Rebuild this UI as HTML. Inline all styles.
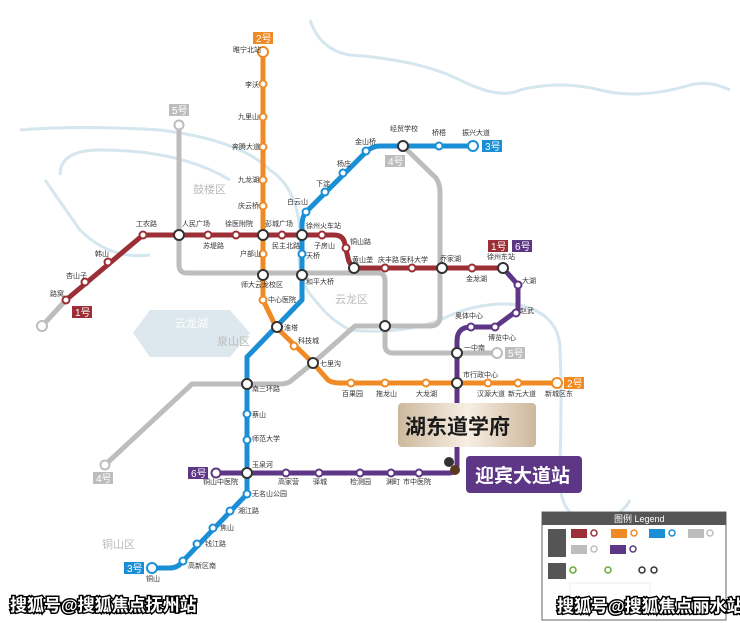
<!DOCTYPE html>
<html><head><meta charset="utf-8"><style>
body{margin:0;background:#fff}
svg{display:block;font-family:"Liberation Sans","Noto Sans CJK SC",sans-serif}
.s{fill:#fff;stroke-width:2}
.x{fill:#fff;stroke:#333;stroke-width:2}
.t{font-size:7px;fill:#333}
.wm{font-size:17px;font-weight:bold;fill:#fff;stroke:#000;stroke-width:3;paint-order:stroke}
</style></head><body>
<svg width="740" height="623" viewBox="0 0 740 623">
<g fill="none" stroke="#d6e6ee" stroke-width="3">
<path d="M310 20 Q320 50 350 55 Q420 60 460 80 Q500 100 520 90 Q560 80 600 90 Q640 100 690 85 Q710 80 730 90"/>
<path d="M20 130 Q80 125 160 130 Q240 140 270 170 Q300 190 300 240 Q295 280 315 300 Q330 320 350 330 Q400 335 440 320 Q480 300 520 305 Q560 315 560 350 Q562 400 560 460 Q555 520 590 520 Q620 520 630 500"/>
<path d="M60 175 Q60 150 100 150 Q180 150 230 180"/>
<path d="M45 180 L80 230 Q110 260 150 255"/>
</g>
<polygon points="150,310 230,310 250,333 230,357 150,357 133,333" fill="#dce8ee"/>
<text x="175" y="327" font-size="11" fill="#fff">云龙湖</text>
<g font-size="11" fill="#bbb"><text x="193" y="193">鼓楼区</text><text x="217" y="345">泉山区</text><text x="335" y="303">云龙区</text><text x="102" y="548">铜山区</text></g>
<g fill="none" stroke="#bdbdbd" stroke-width="5" stroke-linejoin="round">
<path d="M179 125 V265 Q179 273 187 273 H378 Q385 273 385 281 V345 Q385 353 393 353 H497"/>
<path d="M403 146 L436 178 Q440 184 440 192 V316 Q440 326 430 326 H355 L313 363 L292 380 Q288 384 280 384 H192 L105 465"/>
<path d="M42 326 L66 300"/>
</g>
<circle cx="42" cy="326" r="5" class="s" stroke="#bdbdbd"/>
<circle cx="179" cy="125" r="4.5" class="s" stroke="#bdbdbd"/>
<circle cx="497" cy="353" r="5" class="s" stroke="#bdbdbd"/>
<circle cx="105" cy="465" r="4.5" class="s" stroke="#bdbdbd"/>
<path d="M263 52 V300 L276 327 L313 363 L328 380 Q332 383 340 383 H557" fill="none" stroke="#f08a24" stroke-width="5" stroke-linejoin="round"/>
<path d="M66 300 L143 235 H334 Q344 235 345 245 L348 258 Q350 268 360 268 H503" fill="none" stroke="#9b2f35" stroke-width="5" stroke-linejoin="round"/>
<path d="M503 268 L518 285 V310 L495 327 H471 Q457 327 457 341 V465 Q457 473 449 473 H216" fill="none" stroke="#5e3686" stroke-width="5" stroke-linejoin="round"/>
<path d="M473 146 H380 Q372 146 366 152 L306 212 Q302 217 302 225 V300 L247 357 V494 L183 561 Q178 568 170 568 H152" fill="none" stroke="#1b8fd6" stroke-width="5" stroke-linejoin="round"/>
<g class="s" stroke="#f08a24"><circle cx="263" cy="52" r="5"/><circle cx="263" cy="84" r="3.5"/><circle cx="263" cy="117" r="3.5"/><circle cx="263" cy="147" r="3.5"/><circle cx="263" cy="180" r="3.5"/><circle cx="263" cy="206" r="3.5"/><circle cx="263" cy="254" r="3.5"/><circle cx="263" cy="300" r="3.5"/><circle cx="294" cy="346" r="3.5"/><circle cx="351" cy="383" r="3.5"/><circle cx="385" cy="383" r="3.5"/><circle cx="426" cy="383" r="3.5"/><circle cx="488" cy="383" r="3.5"/><circle cx="518" cy="383" r="3.5"/><circle cx="557" cy="383" r="5"/></g>
<g class="s" stroke="#9b2f35"><circle cx="66" cy="300" r="3.5"/><circle cx="85" cy="282" r="3.5"/><circle cx="108" cy="262" r="3.5"/><circle cx="143" cy="235" r="3.5"/><circle cx="208" cy="235" r="3.5"/><circle cx="236" cy="235" r="3.5"/><circle cx="282" cy="235" r="3.5"/><circle cx="322" cy="235" r="3.5"/><circle cx="346" cy="248" r="3.5"/><circle cx="385" cy="268" r="3.5"/><circle cx="412" cy="268" r="3.5"/><circle cx="472" cy="268" r="3.5"/></g>
<g class="s" stroke="#5e3686"><circle cx="518" cy="285" r="3.5"/><circle cx="516" cy="313" r="3.5"/><circle cx="495" cy="327" r="3.5"/><circle cx="471" cy="327" r="3.5"/><circle cx="419" cy="473" r="3.5"/><circle cx="391" cy="473" r="3.5"/><circle cx="360" cy="473" r="3.5"/><circle cx="319" cy="473" r="3.5"/><circle cx="286" cy="473" r="3.5"/><circle cx="216" cy="473" r="4.5"/></g>
<g class="s" stroke="#1b8fd6"><circle cx="473" cy="146" r="5"/><circle cx="439" cy="146" r="3.5"/><circle cx="366" cy="151" r="3.5"/><circle cx="343" cy="173" r="3.5"/><circle cx="325" cy="192" r="3.5"/><circle cx="306" cy="212" r="3.5"/><circle cx="302" cy="254" r="3.5"/><circle cx="247" cy="414" r="3.5"/><circle cx="247" cy="440" r="3.5"/><circle cx="247" cy="494" r="3.5"/><circle cx="230" cy="511" r="3.5"/><circle cx="213" cy="528" r="3.5"/><circle cx="197" cy="544" r="3.5"/><circle cx="183" cy="561" r="3.5"/><circle cx="152" cy="568" r="5"/></g>
<g class="x"><circle cx="179" cy="235" r="5"/><circle cx="263" cy="235" r="5"/><circle cx="302" cy="235" r="5"/><circle cx="263" cy="275" r="5"/><circle cx="302" cy="275" r="5"/><circle cx="354" cy="268" r="5"/><circle cx="442" cy="268" r="5"/><circle cx="503" cy="268" r="5"/><circle cx="403" cy="146" r="5"/><circle cx="277" cy="327" r="5"/><circle cx="313" cy="363" r="5"/><circle cx="247" cy="384" r="5"/><circle cx="247" cy="473" r="5"/><circle cx="457" cy="383" r="5"/><circle cx="457" cy="353" r="5"/><circle cx="385" cy="326" r="5"/></g>
<circle cx="449" cy="462" r="5" fill="#333"/><circle cx="455" cy="470" r="5" fill="#5a3a1e"/>
<g class="t">
<text x="233" y="52">睢宁北站</text><text x="245" y="87">李沃</text><text x="238" y="119">九里山</text><text x="232" y="149">奔腾大道</text><text x="238" y="182">九龙湖</text><text x="238" y="208">庆云桥</text><text x="240" y="256">户部山</text><text x="268" y="302">中心医院</text><text x="284" y="330">淮塔</text><text x="298" y="343">科技城</text><text x="320" y="366">七里沟</text>
<text x="342" y="396">百果园</text><text x="376" y="396">拖龙山</text><text x="416" y="396">大龙湖</text><text x="463" y="377">市行政中心</text><text x="477" y="396">汉源大道</text><text x="508" y="396">新元大道</text><text x="545" y="396">新城区东</text>
<text x="50" y="296">路窝</text><text x="66" y="278">杏山子</text><text x="95" y="256">韩山</text><text x="136" y="226">工农路</text><text x="182" y="226">人民广场</text><text x="203" y="248">苏堤路</text><text x="225" y="226">徐医附院</text><text x="265" y="226">彭城广场</text><text x="272" y="248">民主北路</text><text x="306" y="228">徐州火车站</text><text x="314" y="248">子房山</text><text x="350" y="244">铜山路</text><text x="352" y="262">黄山垄</text><text x="378" y="262">庆丰路</text><text x="400" y="262">医科大学</text><text x="440" y="261">乔家湖</text><text x="466" y="281">金龙湖</text><text x="487" y="259">徐州东站</text>
<text x="522" y="283">大湖</text><text x="520" y="313">赵武</text><text x="488" y="340">博览中心</text><text x="455" y="318">奥体中心</text><text x="464" y="350">一中南</text>
<text x="306" y="258">天桥</text><text x="306" y="284">和平大桥</text><text x="287" y="204">白云山</text><text x="316" y="186">下淀</text><text x="337" y="166">杨庄</text><text x="355" y="144">金山桥</text><text x="390" y="131">经贸学校</text><text x="432" y="135">桥梧</text><text x="462" y="135">振兴大道</text>
<text x="252" y="391">南三环路</text><text x="252" y="417">蔡山</text><text x="252" y="441">师范大学</text><text x="252" y="467">玉泉河</text><text x="252" y="496">无名山公园</text><text x="238" y="513">湘江路</text><text x="220" y="530">焦山</text><text x="205" y="546">钱江路</text><text x="188" y="568">高新区南</text><text x="146" y="581">铜山</text>
<text x="203" y="484">铜山中医院</text><text x="278" y="484">高家营</text><text x="313" y="484">驿城</text><text x="350" y="484">检测园</text><text x="386" y="484">渊町</text><text x="403" y="484">市中医院</text>
<text x="241" y="287">师大云龙校区</text>
</g>
<g font-size="10" fill="#fff">
<rect x="253" y="32" width="20" height="12" fill="#f08a24"/><text x="256" y="42">2号</text>
<rect x="169" y="104" width="20" height="12" fill="#bdbdbd"/><text x="172" y="114">5号</text>
<rect x="385" y="155" width="20" height="12" fill="#bdbdbd"/><text x="388" y="165">4号</text>
<rect x="482" y="140" width="20" height="12" fill="#1b8fd6"/><text x="485" y="150">3号</text>
<rect x="72" y="306" width="20" height="12" fill="#9b2f35"/><text x="75" y="316">1号</text>
<rect x="488" y="240" width="20" height="12" fill="#9b2f35"/><text x="491" y="250">1号</text>
<rect x="512" y="240" width="20" height="12" fill="#5e3686"/><text x="515" y="250">6号</text>
<rect x="505" y="347" width="20" height="12" fill="#bdbdbd"/><text x="508" y="357">5号</text>
<rect x="564" y="377" width="20" height="12" fill="#f08a24"/><text x="567" y="387">2号</text>
<rect x="93" y="472" width="20" height="12" fill="#bdbdbd"/><text x="96" y="482">4号</text>
<rect x="188" y="467" width="20" height="12" fill="#5e3686"/><text x="191" y="477">6号</text>
<rect x="124" y="562" width="20" height="12" fill="#1b8fd6"/><text x="127" y="572">3号</text>
</g>
<defs><linearGradient id="g" x1="0" x2="1"><stop offset="0" stop-color="#cdb89c"/><stop offset=".5" stop-color="#f7efe4"/><stop offset="1" stop-color="#cdb89c"/></linearGradient></defs>
<rect x="398" y="403" width="138" height="44" rx="4" fill="url(#g)"/>
<text x="405" y="434" font-size="21" font-weight="bold" fill="#1a1a1a">湖东道学府</text>
<rect x="466" y="456" width="116" height="37" rx="4" fill="#5e3686"/>
<text x="475" y="482" font-size="19" font-weight="bold" fill="#fff">迎宾大道站</text>
<rect x="542" y="512" width="184" height="108" fill="#fff" stroke="#666"/>
<rect x="542" y="512" width="184" height="13" fill="#555"/>
<text x="614" y="522" font-size="9" fill="#fff">图例 Legend</text>
<g fill="#555"><rect x="548" y="529" width="18" height="28"/><rect x="548" y="563" width="18" height="16"/></g>
<g><rect x="571" y="529" width="16" height="9" fill="#9b2f35"/><rect x="611" y="529" width="16" height="9" fill="#f08a24"/><rect x="649" y="529" width="16" height="9" fill="#1b8fd6"/><rect x="688" y="529" width="16" height="9" fill="#bdbdbd"/><rect x="571" y="545" width="16" height="9" fill="#bdbdbd"/><rect x="610" y="545" width="16" height="9" fill="#5e3686"/></g>
<g fill="none" stroke-width="1.5"><circle cx="594" cy="533" r="3" stroke="#9b2f35"/><circle cx="634" cy="533" r="3" stroke="#f08a24"/><circle cx="672" cy="533" r="3" stroke="#1b8fd6"/><circle cx="710" cy="533" r="3" stroke="#bdbdbd"/><circle cx="594" cy="549" r="3" stroke="#bdbdbd"/><circle cx="633" cy="549" r="3" stroke="#5e3686"/><circle cx="573" cy="570" r="3" stroke="#6a3"/><circle cx="608" cy="570" r="3" stroke="#6a3"/><circle cx="642" cy="570" r="3" stroke="#333"/><circle cx="654" cy="570" r="3" stroke="#333"/></g>
<rect x="570" y="583" width="80" height="30" fill="none" stroke="#eee"/>
<text x="10" y="611" class="wm">搜狐号@搜狐焦点抚州站</text>
<text x="557" y="612" class="wm">搜狐号@搜狐焦点丽水站</text>
</svg>
</body></html>
